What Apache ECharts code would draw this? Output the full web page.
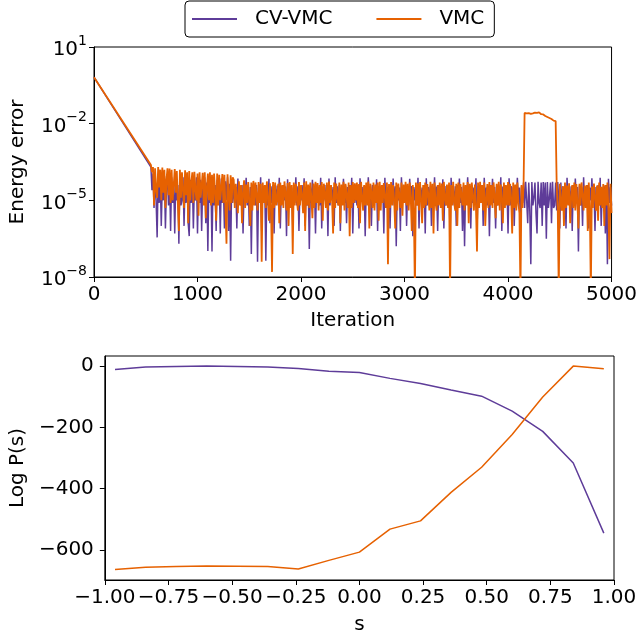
<!DOCTYPE html>
<html>
<head>
<meta charset="utf-8">
<script src="https://cdn.jsdelivr.net/npm/echarts@6/dist/echarts.min.js"></script>
<style>
  html, body { margin: 0; padding: 0; background: #fff; }
  #main { width: 640px; height: 636px; }
</style>
</head>
<body>
<div id="main"></div>
<script>
// ---- data ----
var seriesNames = ['CV-VMC', 'VMC'];

// top panel: energy error vs iteration
var startIter = 0;
var startErr = 0.66;      // both runs start together, straight decay on log scale
var bandStart = 550;      // first iteration of the noisy part
var bandStep = 10;        // iterations between samples below
// log10(energy error), one value every bandStep iterations from bandStart
var cvLog = [
  -3.7,-4.6,-3.95,-5.3,-4.2,-5.0,-6.45,-4.0,-5.1,-4.1,-6.0,-4.3,-5.0,-4.05,-6.1,-4.5,-4.1,-5.2,-4.05,-6.2,
  -4.1,-5.1,-4.3,-6.3,-4.2,-5.0,-4.4,-6.7,-4.05,-5.2,-5.0,-4.1,-6.0,-4.3,-5.1,-4.1,-5.9,-6.4,-4.2,-5.1,
  -4.15,-6.1,-4.4,-5.0,-4.1,-6.3,-4.3,-5.1,-4.2,-6.2,-4.45,-5.0,-4.1,-5.9,-4.3,-6.98,-4.2,-5.1,-4.35,-7.0,
  -4.1,-5.2,-4.4,-6.2,-4.2,-5.0,-4.3,-6.3,-4.15,-5.1,-4.45,-6.1,-4.25,-5.0,-4.1,-6.2,-4.35,-7.36,-4.2,-5.1,
  -4.4,-5.1,-4.5,-6.1,-4.15,-5.0,-4.45,-5.2,-4.4,-6.3,-4.5,-5.0,-4.12,-5.2,-4.42,-6.0,-4.48,-7.1,-4.38,-5.1,
  -4.46,-5.2,-4.4,-7.4,-4.5,-5.0,-4.1,-6.2,-4.44,-5.1,-4.4,-7.36,-4.5,-5.2,-4.16,-5.9,-4.45,-5.1,-4.4,-6.3,
  -4.48,-5.0,-4.42,-5.2,-4.12,-6.1,-4.5,-5.1,-4.4,-5.0,-4.46,-6.4,-4.18,-5.2,-4.44,-5.0,-4.5,-6.0,-4.4,-5.1,
  -4.1,-5.2,-4.45,-6.2,-4.5,-5.0,-4.4,-5.1,-4.14,-6.0,-4.48,-5.2,-4.42,-6.9,-4.5,-5.1,-4.2,-5.0,-4.45,-6.3,
  -4.4,-5.1,-4.5,-5.2,-4.12,-6.1,-4.46,-5.0,-4.4,-5.1,-4.5,-6.4,-4.15,-5.2,-4.44,-5.0,-4.48,-6.0,-4.1,-5.1,
  -4.45,-5.2,-4.4,-6.2,-4.5,-5.0,-4.16,-5.1,-4.42,-5.9,-4.48,-5.2,-4.4,-5.0,-4.12,-6.3,-4.46,-5.1,-4.5,-5.2,
  -4.4,-6.1,-4.14,-5.0,-4.48,-5.2,-4.44,-6.4,-4.5,-5.1,-4.1,-5.0,-4.46,-6.0,-4.4,-5.2,-4.5,-5.1,-4.18,-6.2,
  -4.45,-5.0,-4.5,-5.1,-4.4,-6.3,-4.12,-5.2,-4.48,-5.0,-4.42,-6.1,-4.5,-5.1,-4.15,-5.2,-4.45,-6.8,-4.4,-5.0,
  -4.5,-6.2,-4.1,-5.1,-4.46,-5.0,-4.4,-6.0,-4.5,-5.2,-4.16,-5.1,-4.44,-6.4,-4.48,-5.0,-4.4,-5.2,-4.12,-6.1,
  -4.45,-5.0,-4.5,-5.1,-4.4,-6.3,-4.14,-5.2,-4.48,-5.0,-4.42,-6.0,-4.5,-5.1,-4.1,-5.2,-4.46,-6.2,-4.4,-5.0,
  -4.5,-5.1,-4.18,-6.1,-4.44,-5.2,-4.48,-5.0,-4.4,-6.4,-4.12,-5.1,-4.5,-5.2,-4.45,-6.0,-4.4,-5.0,-4.15,-5.1,
  -4.48,-6.2,-4.42,-6.8,-4.5,-5.0,-4.1,-5.2,-4.46,-6.1,-4.4,-5.1,-4.5,-5.0,-4.14,-6.3,-4.44,-5.2,-4.48,-5.1,
  -4.4,-6.0,-4.12,-5.1,-4.5,-5.2,-4.45,-6.4,-4.4,-5.0,-4.16,-5.1,-4.48,-6.1,-4.42,-5.2,-4.5,-5.0,-4.1,-6.2,
  -4.46,-5.1,-4.4,-5.0,-4.5,-6.3,-4.14,-5.2,-4.44,-5.1,-4.48,-6.0,-4.4,-5.2,-4.12,-5.0,-4.5,-6.2,-4.45,-5.1,
  -4.3,-5.3,-4.27,-5.0,-5.9,-4.3,-5.4,-7.5,-4.28,-5.2,-4.9,-4.3,-5.5,-6.3,-4.27,-5.1,-5.3,-4.3,-6.0,-4.28,
  -5.2,-4.3,-6.5,-4.28,-5.3,-4.9,-4.3,-5.9,-4.27,-5.3,-5.2,-4.3,-5.4,-4.28,-5.0,-6.1,-4.3,-5.2,-4.45,-5.1,
  -4.4,-6.1,-4.12,-5.0,-4.5,-5.2,-4.45,-6.2,-4.4,-5.1,-4.15,-5.0,-4.48,-7.0,-4.42,-5.2,-4.5,-6.0,-4.1,-5.1,
  -4.46,-5.2,-4.4,-6.1,-4.5,-5.0,-4.14,-5.1,-4.44,-6.2,-4.48,-5.0,-4.4,-5.2,-4.12,-6.0,-4.5,-5.1,-4.45,-6.3,
  -4.4,-7.5,-4.16,-5.1,-4.48,-5.2
];
var vmcLog = [
  -3.62,-3.9,-3.7,-5.2,-3.75,-4.6,-4.9,-3.7,-4.5,-3.8,-5.0,-3.72,-4.7,-3.8,-5.3,-4.2,-3.75,-4.8,-3.76,-5.1,
  -3.8,-5.0,-4.4,-3.78,-4.7,-3.85,-5.1,-6.2,-3.8,-4.9,-3.9,-4.6,-5.3,-3.82,-4.8,-3.9,-5.9,-3.85,-5.0,-4.3,
  -3.9,-5.1,-3.88,-4.6,-5.0,-3.95,-5.6,-3.9,-4.9,-4.4,-3.92,-5.2,-3.9,-5.7,-4.5,-3.95,-5.0,-3.9,-5.2,-4.0,
  -5.1,-3.95,-4.7,-5.8,-3.95,-5.2,-4.0,-5.0,-4.5,-3.97,-5.1,-4.0,-5.3,-6.7,-3.98,-4.8,-5.4,-4.02,-5.1,-4.1,
  -4.2,-5.3,-4.35,-4.9,-5.5,-4.25,-5.2,-4.4,-5.9,-4.7,-4.22,-5.3,-4.38,-5.1,-4.28,-5.0,-6.0,-4.3,-5.4,-4.24,
  -5.2,-4.3,-4.8,-5.4,-4.28,-5.1,-4.35,-7.4,-4.3,-5.1,-4.4,-5.3,-4.26,-4.9,-5.8,-4.33,-5.2,-7.8,-4.28,-5.3,
  -4.3,-5.2,-4.95,-4.35,-5.9,-4.3,-5.2,-4.4,-5.3,-4.26,-4.7,-5.4,-4.32,-6.0,-4.28,-5.3,-4.4,-7.1,-4.3,-5.2,
  -4.35,-5.0,-5.4,-4.28,-5.2,-4.4,-4.8,-5.5,-4.3,-6.2,-4.25,-5.2,-4.38,-5.3,-4.3,-4.9,-5.7,-4.34,-5.3,-4.27,
  -5.1,-4.32,-5.4,-4.4,-5.1,-4.28,-5.8,-4.35,-4.7,-5.3,-4.3,-5.4,-4.26,-5.1,-4.4,-5.0,-6.3,-4.3,-5.3,-4.34,
  -4.9,-5.2,-4.3,-5.9,-4.38,-5.2,-4.27,-5.4,-4.35,-4.8,-5.3,-4.3,-6.4,-4.4,-5.3,-4.28,-5.1,-4.33,-5.0,-4.3,
  -5.3,-4.36,-5.9,-4.28,-4.9,-5.4,-4.4,-5.2,-4.3,-5.2,-4.26,-6.1,-4.35,-4.7,-5.3,-4.3,-5.4,-4.38,-5.1,-4.3,
  -5.8,-4.27,-5.4,-4.4,-5.1,-4.32,-4.9,-5.3,-4.3,-7.5,-4.36,-5.3,-4.28,-5.2,-4.4,-5.0,-6.1,-4.3,-5.4,-4.34,
  -4.8,-5.3,-4.3,-5.6,-4.38,-5.1,-4.27,-5.2,-4.35,-5.4,-4.3,-4.9,-6.2,-4.4,-5.3,-8.6,-4.3,-5.2,-4.33,-5.4,
  -4.28,-5.0,-5.9,-4.4,-5.3,-4.3,-5.2,-4.36,-4.8,-5.4,-4.27,-5.3,-4.35,-6.3,-4.3,-5.1,-5.4,-4.4,-5.2,-4.3,
  -5.3,-4.34,-5.8,-4.28,-4.9,-5.2,-4.38,-5.3,-4.3,-8.6,-4.4,-5.2,-4.27,-5.1,-5.4,-4.35,-6.0,-4.3,-5.3,-4.36,
  -4.8,-5.2,-4.3,-5.4,-4.4,-5.2,-4.28,-5.9,-4.35,-5.3,-4.3,-4.9,-5.4,-4.38,-5.2,-7.0,-4.3,-5.3,-4.27,-5.1,
  -4.4,-5.4,-4.3,-6.0,-4.95,-4.36,-5.3,-4.28,-5.2,-4.4,-5.3,-4.3,-4.8,-5.7,-4.35,-5.2,-4.27,-5.4,-4.38,-5.0,
  -5.9,-4.3,-5.3,-4.4,-5.2,-4.28,-5.2,-4.35,-4.9,-6.3,-4.3,-5.3,-4.38,-5.4,-4.3,-5.1,-5.5,-8.6,-4.4,-5.3,
  -4.4,-1.58,-1.56,-1.6,-1.57,-1.59,-1.6,-1.62,-1.58,-1.6,-1.61,-1.57,-1.55,-1.58,-1.6,-1.56,-1.6,-1.63,-1.66,-1.64,
  -1.68,-1.7,-1.66,-1.74,-1.72,-1.78,-1.76,-1.82,-1.8,-1.88,-1.86,-1.9,-4.4,-5.3,-8.6,-4.35,-5.0,-5.4,-4.45,-6.0,
  -4.3,-5.3,-4.42,-5.2,-4.33,-5.9,-4.9,-4.4,-5.3,-4.3,-5.4,-4.36,-5.1,-6.1,-4.35,-5.2,-4.3,-4.8,-5.4,-4.42,
  -5.3,-4.4,-6.2,-4.3,-5.2,-8.6,-4.46,-5.3,-4.34,-4.9,-5.4,-4.42,-5.8,-4.3,-5.2,-4.47,-5.3,-4.36,-6.0,-4.4,
  -5.2,-4.3,-5.4,-7.3,-4.35,-5.5
];
var errTickExp = [-8, -5, -2, 1];

// bottom panel: log P(s)
var sVals = [-0.96,-0.84,-0.72,-0.6,-0.48,-0.36,-0.24,-0.12,0,0.12,0.24,0.36,0.48,0.6,0.72,0.84,0.96];
var cvLogP = [-11,-3,-1,0,-1,-3,-8,-17,-21,-40,-57,-78,-98,-147,-213,-316,-545];
var vmcLogP = [-664,-656,-654,-652,-653,-654,-662,-634,-607,-532,-505,-412,-330,-223,-101,0,-9];
var logPTicks = [-600, -400, -200, 0];

// ---- build ----
var colors = ['#5e3c99', '#e66101'];
var font = 'DejaVu Sans';

function errPoints(logs) {
  var pts = [[startIter, startErr]];
  for (var i = 0; i < logs.length; i++) {
    pts.push([bandStart + i * bandStep, Math.pow(10, logs[i])]);
  }
  return pts;
}
function pairs(xs, ys) {
  return xs.map(function (x, i) { return [x, ys[i]]; });
}
function minus(v) { return (v < 0 ? '\u2212' : '') + Math.abs(v); }

var chart = echarts.init(document.getElementById('main'));
var txt = { color: '#000', fontFamily: font, fontSize: 20 };
var axLine = { show: true, onZero: false, lineStyle: { color: '#000', width: 1 } };
var axTick = { show: true, length: 5, lineStyle: { color: '#000', width: 1 } };

var option = {
  animation: false,
  backgroundColor: '#fff',
  color: colors,
  legend: {
    left: 185, top: 1,
    padding: [8, 10, 8, 7],
    itemGap: 44,
    itemWidth: 45, itemHeight: 2,
    icon: 'rect',
    borderColor: '#000', borderWidth: 1, borderRadius: 4,
    textStyle: { color: '#000', fontFamily: font, fontSize: 20, padding: [0, 0, 0, 13] },
    data: seriesNames
  },
  grid: [
    { left: 93, right: 26, top: 47, height: 230, show: true, borderColor: '#000', borderWidth: 1 },
    { left: 93, right: 26, top: 356, height: 228, show: true, borderColor: '#000', borderWidth: 1 }
  ],
  xAxis: [
    {
      type: 'value', gridIndex: 0, min: 0, max: 5000, interval: 1000,
      name: 'Iteration', nameLocation: 'middle', nameGap: 34, nameTextStyle: txt,
      axisLine: axLine, axisTick: axTick, splitLine: { show: false },
      axisLabel: {
        color: '#000', fontFamily: font, fontSize: 20, margin: 8,
        formatter: function (v) { return String(v); }
      }
    },
    {
      type: 'value', gridIndex: 1, min: -1, max: 1, interval: 0.25,
      name: 's', nameLocation: 'middle', nameGap: 35, nameTextStyle: txt,
      axisLine: axLine, axisTick: axTick, splitLine: { show: false },
      axisLabel: {
        color: '#000', fontFamily: font, fontSize: 20, margin: 8,
        formatter: function (v) { return (v < 0 ? '\u2212' : '') + Math.abs(v).toFixed(2); }
      }
    }
  ],
  yAxis: [
    {
      // data axis for the top panel (hidden, log scale)
      type: 'log', logBase: 10, gridIndex: 0, min: 1e-8, max: 10, position: 'left',
      axisLine: { show: false, onZero: false }, axisTick: { show: false }, axisLabel: { show: false },
      splitLine: { show: false }
    },
    {
      // decade labels for the top panel, in exponents
      type: 'value', gridIndex: 0, min: -8, max: 1, position: 'left',
      name: 'Energy error', nameLocation: 'middle', nameGap: 66, nameTextStyle: txt,
      axisLine: axLine, splitLine: { show: false },
      axisTick: { show: true, length: 5, lineStyle: { color: '#000', width: 1 }, customValues: errTickExp },
      axisLabel: {
        margin: 7, customValues: errTickExp,
        formatter: function (v) { return '{b|10}{s|' + minus(v) + '}'; },
        rich: {
          b: { color: '#000', fontFamily: font, fontSize: 20, lineHeight: 26, verticalAlign: 'bottom' },
          s: { color: '#000', fontFamily: font, fontSize: 14, lineHeight: 16, verticalAlign: 'top' }
        }
      }
    },
    {
      type: 'value', gridIndex: 1, min: -698, max: 33, position: 'left',
      name: 'Log P(s)', nameLocation: 'middle', nameGap: 74, nameTextStyle: txt,
      axisLine: axLine, splitLine: { show: false },
      axisTick: { show: true, length: 5, lineStyle: { color: '#000', width: 1 }, customValues: logPTicks },
      axisLabel: {
        color: '#000', fontFamily: font, fontSize: 20, margin: 11, customValues: logPTicks,
        formatter: function (v) { return minus(v); }
      }
    }
  ],
  series: [
    {
      name: seriesNames[0], type: 'line', xAxisIndex: 0, yAxisIndex: 0,
      data: errPoints(cvLog), symbol: 'none', lineStyle: { width: 1.5, color: colors[0] }
    },
    {
      name: seriesNames[1], type: 'line', xAxisIndex: 0, yAxisIndex: 0,
      data: errPoints(vmcLog), symbol: 'none', lineStyle: { width: 1.8, color: colors[1] }
    },
    {
      name: seriesNames[0], type: 'line', xAxisIndex: 1, yAxisIndex: 2,
      data: pairs(sVals, cvLogP), symbol: 'none', lineStyle: { width: 1.5, color: colors[0] }
    },
    {
      name: seriesNames[1], type: 'line', xAxisIndex: 1, yAxisIndex: 2,
      data: pairs(sVals, vmcLogP), symbol: 'none', lineStyle: { width: 1.5, color: colors[1] }
    }
  ]
};

chart.setOption(option);
</script>
</body>
</html>
